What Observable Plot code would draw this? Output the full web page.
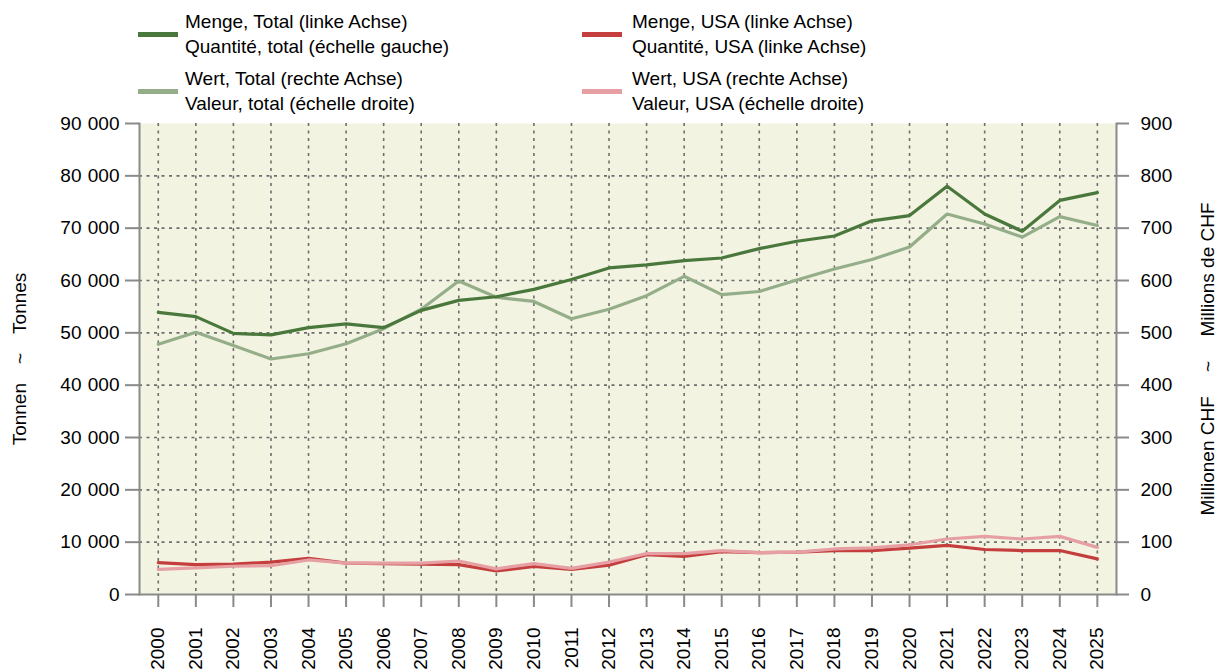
<!DOCTYPE html>
<html><head><meta charset="utf-8">
<script src="https://cdn.jsdelivr.net/npm/d3@7"></script>
<script src="https://cdn.jsdelivr.net/npm/@observablehq/plot@0.6"></script>
<style>
body{margin:0;background:#fff;font-family:Arial,"Liberation Sans",sans-serif;}
#wrap{position:relative;width:1217px;height:672px;overflow:hidden;}
#wrap svg{position:absolute;left:0;top:0;}
.leg{position:absolute;font-size:19px;line-height:25px;color:#000;white-space:nowrap;}
.sw{position:absolute;width:40px;height:5px;}
</style></head><body><div id="wrap"></div>
<script>
const years = [2000,2001,2002,2003,2004,2005,2006,2007,2008,2009,2010,2011,2012,2013,2014,2015,2016,2017,2018,2019,2020,2021,2022,2023,2024,2025];
// Tonnen (linke Achse)
const mengeTotal = [53900,53100,49900,49600,51000,51700,51000,54300,56200,56900,58300,60200,62400,63000,63800,64300,66100,67500,68500,71400,72400,78000,72700,69400,75300,76800];
// Millionen CHF (rechte Achse)
const wertTotal = [478,501,476,450,460,479,508,545,599,568,560,527,545,571,608,573,579,601,622,640,664,727,708,683,722,705];
// Tonnen (linke Achse)
const mengeUSA = [6100,5700,5800,6200,6900,6000,5900,5800,5700,4500,5350,4800,5600,7600,7300,8200,8000,8100,8400,8400,8850,9400,8600,8400,8400,6800];
// Millionen CHF (rechte Achse)
const wertUSA = [48,51,54,55,66,60,60,60,64,49,59,50,62,78,78,84,80,81,87,89,95,106,111,106,111,90];

const seriesKeys = ["mengeTotal","wertTotal","mengeUSA","wertUSA"];
const seriesLabels = [
  ["Menge, Total (linke Achse)","Quantité, total (échelle gauche)"],
  ["Wert, Total (rechte Achse)","Valeur, total (échelle droite)"],
  ["Menge, USA (linke Achse)","Quantité, USA (linke Achse)"],
  ["Wert, USA (rechte Achse)","Valeur, USA (échelle droite)"]
];
const seriesColors = ["#4a783c","#94ae89","#c43e3e","#e6a0a4"];
const leftTicks = [0,10000,20000,30000,40000,50000,60000,70000,80000,90000];
const rightTicks = [0,100,200,300,400,500,600,700,800,900];
const leftTitle = "Tonnen\u2003~\u2003Tonnes";
const rightTitle = "Millionen CHF\u2003 ~\u2003 Millions de CHF";

const RATIO = 100; // right axis (Mio CHF) -> left axis (Tonnen)
const seriesValues = {mengeTotal, wertTotal, mengeUSA, wertUSA};
const rightAxisSeries = new Set(["wertTotal","wertUSA"]);
const data = [];
for (const k of seriesKeys) {
  seriesValues[k].forEach((v,i) => data.push({year: years[i], key: k, v: rightAxisSeries.has(k) ? v*RATIO : v}));
}
const fmtLeft = d => d3.format(",")(d).replace(/,/g, "\u2004");
const gray = "#8a8a8a";

const chart = Plot.plot({
  width: 1217, height: 672,
  marginLeft: 139, marginRight: 101, marginTop: 123, marginBottom: 78,
  style: {fontFamily: "Arial, 'Liberation Sans', sans-serif", fontSize: "19px", color: "#000", background: "transparent", overflow: "visible"},
  x: {domain: [1999.5, 2025.51]},
  y: {domain: [0, 90000]},
  color: {domain: seriesKeys, range: seriesColors},
  marks: [
    Plot.frame({fill: "#f3f3e1", stroke: null}),
    Plot.gridY(leftTicks.slice(1, -1), {stroke: "#6e6e6e", strokeOpacity: 1, strokeWidth: 1.6, strokeDasharray: "3,4.5"}),
    Plot.gridX(years, {stroke: "#6e6e6e", strokeOpacity: 1, strokeWidth: 1.6, strokeDasharray: "3,4.5"}),
    Plot.lineY(data.filter(d => d.key === "wertTotal"), {x: "year", y: "v", stroke: "key", strokeWidth: 3.2}),
    Plot.lineY(data.filter(d => d.key === "mengeTotal"), {x: "year", y: "v", stroke: "key", strokeWidth: 3.2}),
    Plot.lineY(data.filter(d => d.key === "mengeUSA"), {x: "year", y: "v", stroke: "key", strokeWidth: 3.2}),
    Plot.lineY(data.filter(d => d.key === "wertUSA"), {x: "year", y: "v", stroke: "key", strokeWidth: 3.2}),
    Plot.frame({anchor: "left", stroke: gray, strokeWidth: 2}),
    Plot.frame({anchor: "right", stroke: gray, strokeWidth: 2}),
    Plot.frame({anchor: "bottom", stroke: gray, strokeWidth: 2}),
    Plot.axisY(leftTicks, {anchor: "left", tickSize: 14, tickPadding: 6, tickFormat: fmtLeft, stroke: gray, strokeWidth: 2, label: null}),
    Plot.axisY(leftTicks, {anchor: "right", tickSize: 12, tickPadding: 12, tickFormat: d => String(d / RATIO), stroke: gray, strokeWidth: 2, label: null}),
    Plot.axisX(years, {anchor: "bottom", tickSize: 13, tickPadding: 20, tickRotate: -90, tickFormat: d => String(d), stroke: gray, strokeWidth: 2, label: null}),
    Plot.text([leftTitle], {frameAnchor: "left", dx: -120, rotate: -90, textAnchor: "middle", fontSize: 19, fill: "#000"}),
    Plot.text([rightTitle], {frameAnchor: "right", dx: 91, rotate: -90, textAnchor: "middle", fontSize: 19, fill: "#000"})
  ]
});
const wrap = document.getElementById("wrap");
wrap.appendChild(chart);

// legend
const legPos = [[138,185,0],[138,185,57],[582,632,0],[582,632,57]];
seriesKeys.forEach((k,i) => {
  const [sx, tx, dy] = legPos[i];
  const sw = document.createElement("div");
  sw.className = "sw";
  sw.style.left = sx + "px"; sw.style.top = (32 + dy) + "px"; sw.style.background = seriesColors[i];
  wrap.appendChild(sw);
  const t = document.createElement("div");
  t.className = "leg";
  t.style.left = tx + "px"; t.style.top = (9 + dy) + "px";
  t.innerHTML = seriesLabels[i].join("<br>");
  wrap.appendChild(t);
});
</script>
</body></html>
